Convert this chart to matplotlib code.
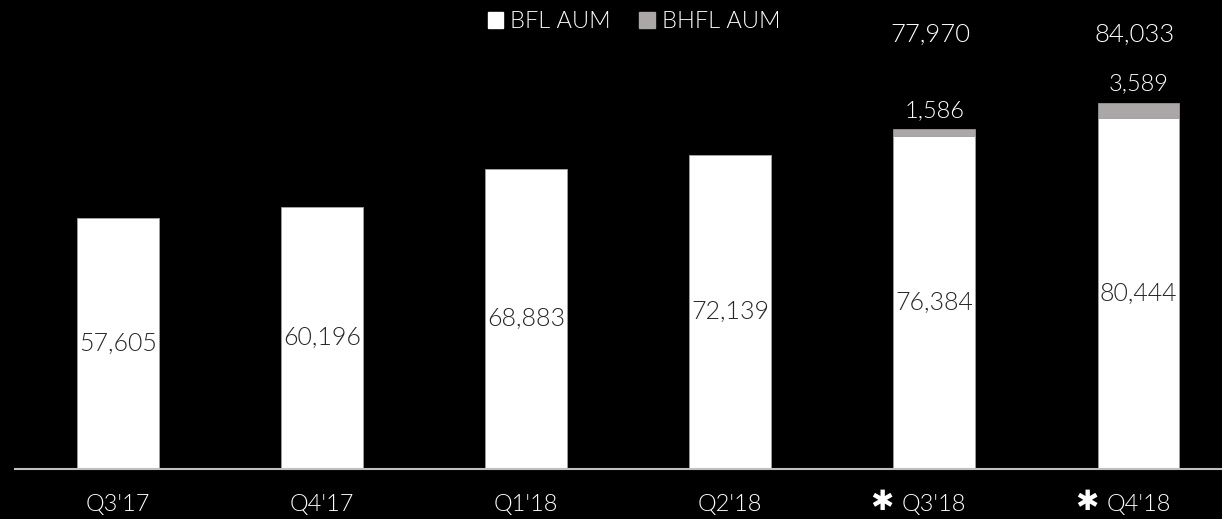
import matplotlib
matplotlib.use("Agg")
import matplotlib.pyplot as plt
import numpy as np

plt.rcParams["font.family"] = ["Lato", "DejaVu Sans"]
plt.rcParams["font.weight"] = 300

# data (Rs crore)
quarters = ["Q3'17", "Q4'17", "Q1'18", "Q2'18", "Q3'18", "Q4'18"]
bfl_aum = [57605, 60196, 68883, 72139, 76384, 80444]
bhfl_aum = [0, 0, 0, 0, 1586, 3589]
starred = [False, False, False, False, True, True]

BG = "black"
GRAY = "#ABA7A6"

fig = plt.figure(figsize=(12.22, 5.19), dpi=100, facecolor=BG)
ax = fig.add_axes([15 / 1222, 50 / 519, 1 - 15 / 1222, 469 / 519])
ax.set_facecolor(BG)

x = np.arange(len(quarters))
width = 0.40
ax.bar(x, bfl_aum, width, color="white", edgecolor="#A6A6A6", linewidth=0.5)
ax.bar(x, bhfl_aum, width, bottom=bfl_aum, color=GRAY, edgecolor="#A6A6A6", linewidth=0.5)

ax.set_xlim(-0.505, 5.41)
ax.set_ylim(0, 107640)

# BFL labels inside the bars, right aligned
for xi, v in zip(x, bfl_aum):
    ax.text(xi + width / 2 - 0.01, v * 0.5, f"{v:,}", ha="right", va="center",
            fontsize=18, color="#262626")

# BHFL labels and totals
for xi, b, h in zip(x, bfl_aum, bhfl_aum):
    if h == 0:
        continue
    ax.annotate(f"{h:,}", (xi, b + h), xytext=(0, 6), textcoords="offset points",
                ha="center", va="bottom", fontsize=17, color="white")
    ax.text(xi - 0.02, 0.926, f"{b + h:,}", transform=ax.get_xaxis_transform(),
            ha="center", va="center", fontsize=18.5, color="white")

# axis styling
for s in ["top", "right", "left"]:
    ax.spines[s].set_visible(False)
ax.spines["bottom"].set_color("#BFBFBF")
ax.spines["bottom"].set_linewidth(1.5)
ax.set_yticks([])
ax.set_xticks(x)
ax.set_xticklabels(quarters, fontsize=17, color="white")
ax.tick_params(axis="x", length=0, pad=18)

for xi, st in zip(x, starred):
    if st:
        ax.text(xi - 0.255, -0.07, "✱", transform=ax.get_xaxis_transform(),
                ha="center", va="center", fontsize=20, fontweight="bold",
                color="white", family="DejaVu Sans")

# legend
handles = [plt.Rectangle((0, 0), 1, 1, color="white"),
           plt.Rectangle((0, 0), 1, 1, color=GRAY)]
fig.legend(handles, ["BFL AUM", "BHFL AUM"], loc="center", bbox_to_anchor=(634 / 1222, 1 - 22 / 519),
           ncol=2, frameon=False, fontsize=17, labelcolor="white",
           handlelength=0.65, handleheight=0.7, handletextpad=0.3, columnspacing=1.2)

fig.savefig("out.png", dpi=100, facecolor=BG)
